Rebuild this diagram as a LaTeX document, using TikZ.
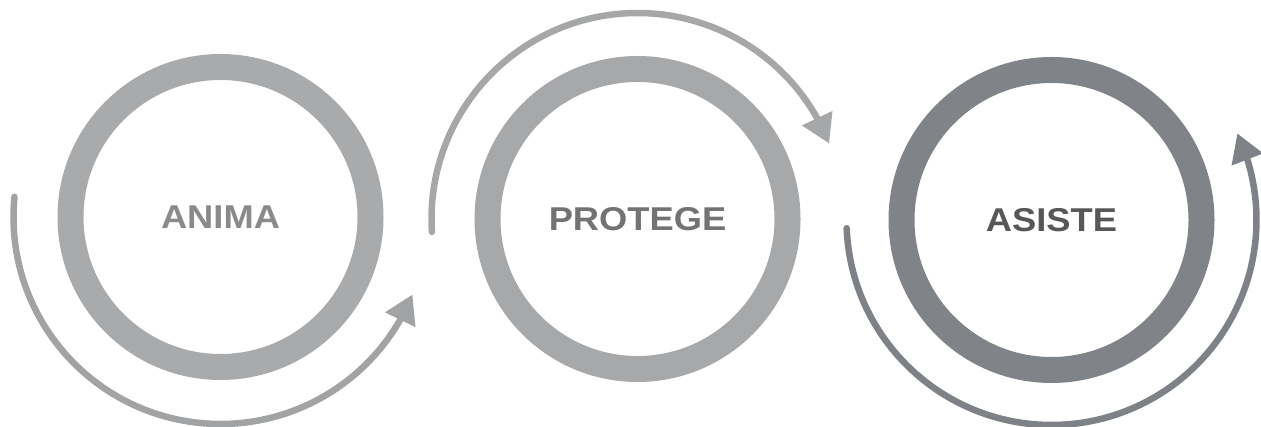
\documentclass[tikz,border=0pt]{standalone}
\usepackage{fontspec}
\setmainfont{Liberation Sans}
\usetikzlibrary{arrows.meta,bending}
\definecolor{ringA}{HTML}{A9AAAC}
\definecolor{ringB}{HTML}{A7A8AA}
\definecolor{ringC}{HTML}{808488}
\definecolor{arrA}{HTML}{A2A3A5}
\definecolor{arrB}{HTML}{A6A7A9}
\definecolor{arrC}{HTML}{7E8185}
\definecolor{txtA}{HTML}{8A8A8C}
\definecolor{txtB}{HTML}{737375}
\definecolor{txtC}{HTML}{565759}
\tikzset{
  ring/.style={circle, draw=#1, line width=26pt, minimum size=300pt, inner sep=0pt,
    font=\fontsize{33}{33}\selectfont\bfseries},
  cyc/.style={draw=#1, line width=6.5pt, line cap=round,
    -{Triangle[width=32pt,length=28pt,fill=#1]}},
}
\begin{document}
\begin{tikzpicture}[x=1pt,y=1pt]
\useasboundingbox (0,0) rectangle (1261,427);
\node[ring=ringA, text=txtA] (anima) at (220.5,210) {\scalebox{1.1}[1]{ANIMA}};
\node[ring=ringB, text=txtB] (protege) at (637.5,208) {\scalebox{1.1}[1]{PROTEGE}};
\node[ring=ringC, text=txtC] (asiste) at (1051.5,207) {\scalebox{1.1}[1]{ASISTE}};
\draw[cyc=arrA] (anima.center) ++(174.4:207) arc[start angle=174.4, end angle=338, radius=207];
\draw[cyc=arrB] (protege.center) ++(183.6:206) arc[start angle=183.6, end angle=21.5, radius=206];
\draw[cyc=arrC] (asiste.center) ++(182.3:205) arc[start angle=182.3, end angle=385, radius=205];
\end{tikzpicture}
\end{document}
